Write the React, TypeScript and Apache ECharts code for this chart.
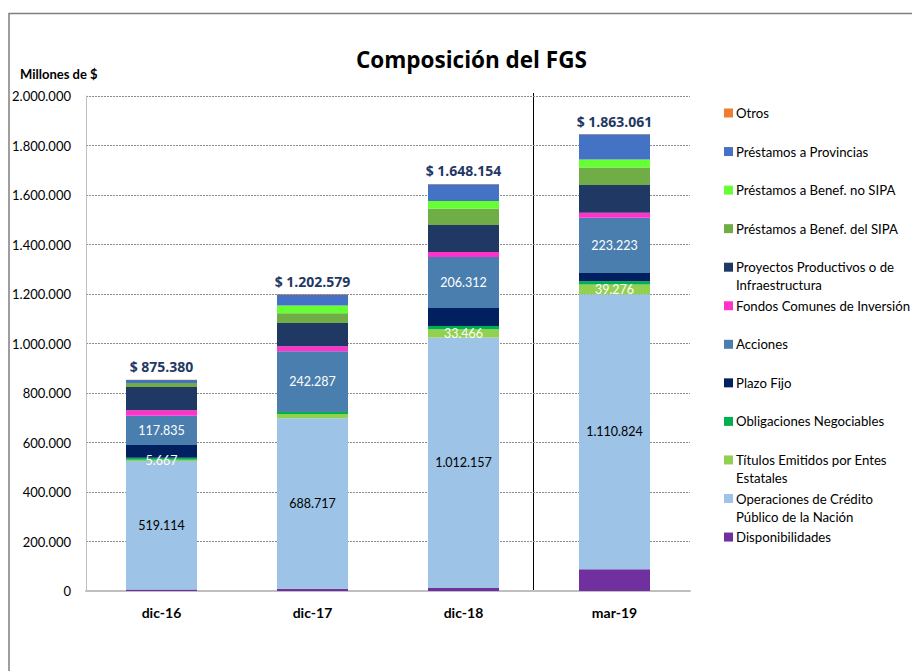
import React, { useEffect, useRef } from "react";
import * as echarts from "echarts";

const categories = ["dic-16", "dic-17", "dic-18", "mar-19"];
const totals = [875380, 1202579, 1648154, 1863061];

// stacked bottom -> top
const disponibilidades = [6000, 9000, 12000, 88000];
const operaciones = [519114, 688717, 1012157, 1110824];
const titulos = [5667, 17500, 33466, 39276];
const obligaciones = [8000, 9500, 13000, 13000];
const plazoFijo = [51000, 1500, 73000, 34000];
const acciones = [117835, 242287, 206312, 223223];
const fondosComunes = [23000, 20000, 20000, 20000];
const proyectos = [94000, 94000, 109000, 112000];
const benefSipa = [16000, 40000, 66000, 71000];
const benefNoSipa = [0, 31000, 31000, 32000];
const provincias = [12000, 44000, 67000, 102000];
const otros = [500, 2000, 2000, 1000];

const titulosLabelShown = [true, false, true, true];

const seriesNames = [
  "Disponibilidades",
  "Operaciones de Crédito Público de la Nación",
  "Títulos Emitidos por Entes Estatales",
  "Obligaciones Negociables",
  "Plazo Fijo",
  "Acciones",
  "Fondos Comunes de Inversión",
  "Proyectos Productivos o de Infraestructura",
  "Préstamos a Benef. del SIPA",
  "Préstamos a Benef. no SIPA",
  "Préstamos a Provincias",
  "Otros",
];
const legendLines = [
  ["Disponibilidades"],
  ["Operaciones de Crédito", "Público de la Nación"],
  ["Títulos Emitidos por Entes", "Estatales"],
  ["Obligaciones Negociables"],
  ["Plazo Fijo"],
  ["Acciones"],
  ["Fondos Comunes de Inversión"],
  ["Proyectos Productivos o de", "Infraestructura"],
  ["Préstamos a Benef. del SIPA"],
  ["Préstamos a Benef. no SIPA"],
  ["Préstamos a Provincias"],
  ["Otros"],
];
const colors = [
  "#7030A0",
  "#9DC3E6",
  "#92D050",
  "#00B050",
  "#002060",
  "#4A7EAE",
  "#FF33CC",
  "#1F3864",
  "#70AD47",
  "#66FF33",
  "#4472C4",
  "#ED7D31",
];

const FONT = "Lato, 'Open Sans', sans-serif";
const TITLE_FONT = "'Open Sans', Lato, sans-serif";

function fmt(n: number): string {
  return Math.round(n)
    .toString()
    .replace(/\B(?=(\d{3})+(?!\d))/g, ".");
}

export default function App() {
  const ref = useRef<HTMLDivElement>(null);
  useEffect(() => {
    if (!ref.current) return;
    const chart = echarts.init(ref.current, null, { renderer: "svg" });
    const dataSets = [
      disponibilidades,
      operaciones,
      titulos,
      obligaciones,
      plazoFijo,
      acciones,
      fondosComunes,
      proyectos,
      benefSipa,
      benefNoSipa,
      provincias,
      otros,
    ];
    const series: any[] = dataSets.map((d, i) => {
      const s: any = {
        type: "bar",
        name: seriesNames[i],
        stack: "total",
        barWidth: 71,
        itemStyle: { color: colors[i] },
        data: d.slice(),
      };
      if (i === 1) {
        s.label = {
          show: true,
          position: "inside",
          color: "#000",
          fontSize: 12.5,
          fontFamily: FONT,
          formatter: (p: any) => fmt(p.value),
        };
      }
      if (i === 5) {
        s.label = {
          show: true,
          position: "inside",
          color: "#fff",
          fontSize: 12.5,
          fontFamily: FONT,
          formatter: (p: any) => fmt(p.value),
        };
      }
      if (i === 2) {
        s.data = d.map((v, j) => ({
          value: v,
          label: { show: titulosLabelShown[j] },
        }));
        s.label = {
          show: true,
          position: "inside",
          color: "#fff",
          fontSize: 12.5,
          fontFamily: FONT,
          formatter: (p: any) => fmt(p.value),
        };
      }
      if (i === dataSets.length - 1) {
        s.label = {
          show: true,
          position: "top",
          distance: 6,
          color: "#1F3864",
          fontSize: 14,
          fontWeight: "bold",
          fontFamily: TITLE_FONT,
          formatter: (p: any) => "$ " + fmt(totals[p.dataIndex]),
        };
      }
      return s;
    });

    const legendTop = 113;
    const pitch = 38.55;
    const legendGraphics: any[] = [];
    for (let k = 0; k < seriesNames.length; k++) {
      const idx = seriesNames.length - 1 - k;
      const cy = legendTop + k * pitch;
      legendGraphics.push({
        type: "rect",
        shape: { x: 724, y: cy - 4.5, width: 9, height: 9 },
        style: { fill: colors[idx] },
      });
      legendLines[idx].forEach((line, li) => {
        legendGraphics.push({
          type: "text",
          x: 736,
          y: cy + li * 18,
          style: {
            text: line,
            fill: "#000",
            font: `13.2px ${FONT}`,
            verticalAlign: "middle",
          },
        });
      });
    }

    chart.setOption({
      animation: false,
      backgroundColor: "#fff",
      title: {
        text: "Composición del FGS",
        left: 351,
        top: 43,
        textStyle: {
          fontFamily: TITLE_FONT,
          fontSize: 22.5,
          fontWeight: "bold",
          color: "#000",
        },
      },
      grid: { left: 86, right: 222, top: 96, bottom: 80 },
      xAxis: {
        type: "category",
        data: categories,
        axisTick: { show: false },
        axisLine: { lineStyle: { color: "#BFBFBF", width: 2 } },
        axisLabel: {
          color: "#000",
          fontWeight: "bold",
          fontSize: 14,
          fontFamily: FONT,
          margin: 14,
        },
      },
      yAxis: {
        type: "value",
        min: 0,
        max: 2000000,
        interval: 200000,
        axisLine: { show: true, lineStyle: { color: "#BFBFBF" } },
        axisTick: { show: false },
        splitLine: {
          lineStyle: { color: "#8C8C8C", type: [2, 1], width: 1 },
        },
        axisLabel: {
          color: "#000",
          fontSize: 13,
          fontFamily: FONT,
          margin: 15,
          formatter: (v: number) => fmt(v),
        },
      },
      series,
      graphic: [
        {
          type: "rect",
          shape: { x: 9, y: 13.5, width: 1000, height: 1000 },
          style: { fill: "none", stroke: "#7F7F7F", lineWidth: 1.5 },
        },
        {
          type: "text",
          x: 20,
          y: 74,
          style: {
            text: "Millones de $",
            fill: "#000",
            font: `bold 13px ${FONT}`,
            verticalAlign: "middle",
          },
        },
        {
          type: "line",
          shape: { x1: 533.5, y1: 93, x2: 533.5, y2: 591 },
          style: { stroke: "#000", lineWidth: 1 },
        },
        ...legendGraphics,
      ],
    });
    return () => chart.dispose();
  }, []);
  return (
    <div
      ref={ref}
      style={{ position: "fixed", left: 0, top: 0, width: 912, height: 671 }}
    />
  );
}
